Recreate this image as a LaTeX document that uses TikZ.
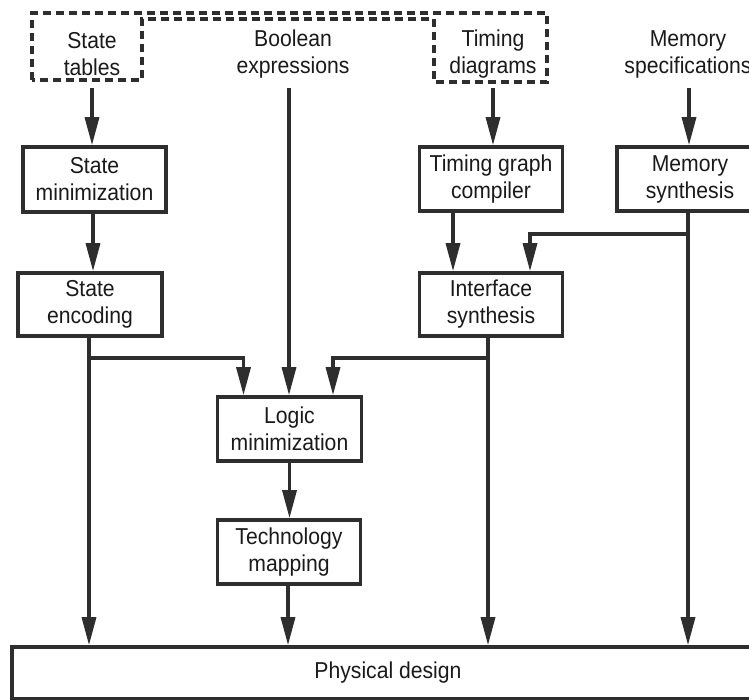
\documentclass[tikz,border=0pt]{standalone}
\usepackage{fontspec}
\setmainfont{Liberation Sans}[FakeStretch=0.92]
\usetikzlibrary{arrows.meta,calc}
\definecolor{linec}{HTML}{2E2E2E}
\definecolor{txt}{HTML}{1A1A1A}
\newcommand\lblfont{\fontsize{23}{27}\selectfont}
\begin{document}
\begin{tikzpicture}[x=1pt,y=-1pt,
  ln/.style={line width=3.3pt, draw=linec},
  arr/.style={ln, -{Triangle[length=28pt,width=14pt]}},
  box/.style={draw=linec, line width=3.6pt, fill=white, align=center, inner sep=0pt, font=\lblfont, text=txt},
  lab/.style={align=center, inner sep=0pt, minimum height=68pt, font=\lblfont, text=txt}]
\useasboundingbox (0,0) rectangle (749,700);
\clip (0,0) rectangle (749,700);
\fill[white] (0,0) rectangle (749,700);

% source labels
\node[lab] (st) at (92,54) {State\\tables};
\node[lab] (be) at (293,54) {Boolean\\expressions};
\node[lab] (td) at (493,54) {Timing\\diagrams};
\node[lab] (ms) at (688,54) {Memory\\specifications};

% dashed outline
\draw[ln, line width=3.6pt, dash pattern=on 8pt off 5pt] (32,80) -- (32,13) -- (547,13) -- (547,82) -- (434,82) -- (434,19) -- (142,19) -- (142,80) -- cycle;

% boxes
\node[box, minimum width=143pt, minimum height=65pt] (smin) at (94.5,179.5) {State\\minimization};
\node[box, minimum width=144pt, minimum height=63pt] (senc) at (90,304.5) {State\\encoding};
\node[box, minimum width=143pt, minimum height=64pt] (tgc) at (491,179) {Timing graph\\compiler};
\node[box, minimum width=146pt, minimum height=64pt] (msyn) at (690,179) {Memory\\synthesis};
\node[box, minimum width=143pt, minimum height=63pt] (isyn) at (491,304.5) {Interface\\synthesis};
\node[box, minimum width=144pt, minimum height=64pt] (logic) at (289.5,429) {Logic\\minimization};
\node[box, minimum width=143pt, minimum height=64pt] (tech) at (289,552) {Technology\\mapping};
\node[box, minimum width=752pt, minimum height=52pt] (phys) at (388,673) {Physical design};

\coordinate (lvlA) at (0,234);
\coordinate (lvlB) at (0,358);

% connectors
\draw[arr] (st.south) -- (st.south |- smin.north);
\draw[arr] ([xshift=-1.5pt]smin.south) -- ([xshift=-1.5pt]smin.south |- senc.north);
\draw[arr] ([xshift=-1pt]senc.south) -- ([xshift=-1pt]senc.south |- phys.north);
\draw[arr] ([xshift=-1pt]senc.south |- lvlB) -| ([xshift=-46pt]logic.north);
\draw[arr] ([xshift=-4pt]be.south) -- ([xshift=-4pt]be.south |- logic.north);
\draw[arr] (td.south) -- (td.south |- tgc.north);
\draw[arr] ([xshift=1pt]ms.south) -- ([xshift=1pt]ms.south |- msyn.north);
\draw[arr] ([xshift=-2pt]msyn.south) -- ([xshift=-2pt]msyn.south |- phys.north);
\draw[arr] ([xshift=-2pt]msyn.south |- lvlA) -| ([xshift=39pt]isyn.north);
\draw[arr] ([xshift=-38pt]tgc.south) -- ([xshift=-38pt]tgc.south |- isyn.north);
\draw[arr] ([xshift=-3pt]isyn.south) -- ([xshift=-3pt]isyn.south |- phys.north);
\draw[arr] ([xshift=-3pt]isyn.south |- lvlB) -| ([xshift=43.5pt]logic.north);
\draw[arr] (logic.south) -- (logic.south |- tech.north);
\draw[arr] ([xshift=-1pt]tech.south) -- ([xshift=-1pt]tech.south |- phys.north);
\end{tikzpicture}
\end{document}
